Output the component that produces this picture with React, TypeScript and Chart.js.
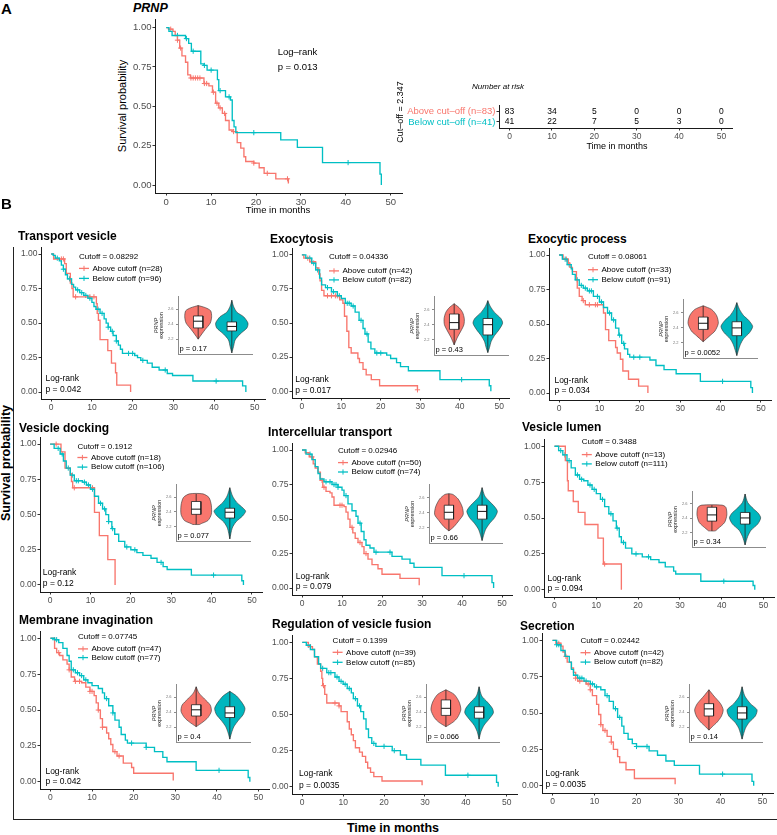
import React, { useEffect, useRef } from 'react';
import { Chart, registerables } from 'chart.js';

Chart.register(...registerables);

const RED = '#F8766D';
const TEAL = '#00BFC4';
const TEAL_FILL = '#00B6BE';
const FONT = '"Liberation Sans", Arial, Helvetica, sans-serif';
const TICK_COLOR = '#4D4D4D';
const AXIS_COLOR = '#1a1a1a';

type Pt = [number, number];
type Rect = { l: number; t: number; r: number; b: number };

// ---------------- DATA ----------------
const X_TICKS = [0, 10, 20, 30, 40, 50];
const Y_TICKS = [0, 0.25, 0.5, 0.75, 1];
const INSET_TICKS = [2.2, 2.4, 2.6];

// Panel A (PRNP)
const A_UP: Pt[] = [[0,1],[0.5,0.99],[1.5,0.976],[2,0.95],[2.5,0.92],[3,0.87],[3.5,0.82],[4.3,0.78],[4.8,0.70],[5.4,0.68],[8.4,0.645],[9.5,0.63],[10.3,0.59],[11,0.52],[11.7,0.49],[12.5,0.455],[13.2,0.41],[14,0.35],[14.7,0.34],[15.8,0.27],[16.6,0.235],[17.3,0.18],[17.7,0.15],[19.5,0.14],[20.7,0.11],[21.8,0.075],[24.4,0.04],[27.2,0.01]];
const A_UP_C = [1, 2.5, 3.2, 5.5, 6, 6.5, 7, 7.5, 8.5, 9, 10.5, 11.3, 12, 13, 15, 19.5, 22.5, 27];
const A_DN: Pt[] = [[0,1],[0.6,0.976],[1.3,0.95],[4.3,0.93],[5,0.90],[5.6,0.85],[7.7,0.77],[8.4,0.76],[9.1,0.73],[11.4,0.67],[11.7,0.60],[13.2,0.56],[14.3,0.54],[14.7,0.41],[15.1,0.37],[15.5,0.333],[25.5,0.287],[29.2,0.24],[34.8,0.143],[47.6,0.07],[47.9,0.0]];
const A_DN_C = [2.5, 4.5, 6, 8.5, 10, 12, 14, 19.5, 40.5];

const RISK_T = [0, 10, 20, 30, 40, 50];
const RISK_UP = [83, 34, 5, 0, 0, 0];
const RISK_DN = [41, 22, 7, 5, 3, 0];
const RISK_LABELS = ['Above cut\u2013off (n=83)', 'Below cut\u2013off (n=41)'];

// Panel B meta
const PANEL_TITLES = ['Transport vesicle', 'Exocytosis', 'Exocytic process', 'Vesicle docking', 'Intercellular transport', 'Vesicle lumen', 'Membrane invagination', 'Regulation of vesicle fusion', 'Secretion'];
const CUTOFFS = ['0.08292', '0.04336', '0.08061', '0.1912', '0.02946', '0.3488', '0.07745', '0.1399', '0.02442'];
const N_ABOVE = [28, 42, 33, 18, 50, 13, 47, 39, 42];
const N_BELOW = [96, 82, 91, 106, 74, 111, 77, 85, 82];
const LOGRANK_P = ['0.042', '0.017', '0.034', '0.12', '0.079', '0.094', '0.042', '0.0035', '0.0035'];
const VIOLIN_P = ['0.17', '0.43', '0.0052', '0.077', '0.66', '0.34', '0.4', '0.066', '0.14'];

// KM curves: [time, survival]
const TV_UP: Pt[] = [[0,1],[0.6,0.964],[3.3,0.93],[3.7,0.86],[4.7,0.79],[5.1,0.75],[5.4,0.69],[11.1,0.64],[11.3,0.57],[11.6,0.52],[12,0.38],[13.9,0.30],[14.8,0.21],[15.8,0.14],[16.1,0.05],[19.5,0.0]];
const TV_UP_C = [2.5, 3, 6, 9.5, 10.5];
const TV_DN: Pt[] = [[0,1],[0.5,0.99],[1,0.97],[2,0.95],[2.5,0.92],[3,0.89],[3.5,0.85],[4,0.82],[5,0.78],[5.5,0.76],[6,0.74],[7,0.72],[8,0.70],[9,0.68],[10,0.65],[10.5,0.62],[11,0.60],[12,0.57],[13,0.53],[13.5,0.50],[14,0.47],[14.6,0.44],[15.2,0.41],[16,0.37],[16.5,0.34],[17,0.31],[17.5,0.28],[20.5,0.265],[21.2,0.25],[22,0.23],[23.6,0.21],[24.8,0.18],[26.5,0.16],[28.5,0.135],[29.8,0.12],[34.8,0.08],[47,0.045],[47.8,0.0]];
const TV_DN_C = [1.5, 3, 4.5, 6.5, 7.5, 8.5, 9.5, 11.5, 12.5, 14, 15, 16, 19, 20, 22.5, 28, 40.5];

const EX_UP: Pt[] = [[0,1],[0.5,0.976],[2,0.95],[3.5,0.905],[4.3,0.86],[4.6,0.81],[5,0.74],[5.6,0.70],[9.6,0.67],[10.4,0.645],[10.8,0.55],[11.4,0.44],[11.9,0.32],[12.5,0.28],[14.2,0.24],[14.6,0.21],[15.5,0.16],[16.3,0.12],[17.6,0.085],[19.7,0.04],[29.3,0.01]];
const EX_UP_C = [1.5, 2.5, 6.5, 7.5, 8.5, 9, 29.3];
const EX_DN: Pt[] = [[0,1],[1,0.976],[2.5,0.94],[3.5,0.89],[4.5,0.83],[5,0.78],[6,0.76],[7.5,0.73],[9,0.70],[10,0.68],[11,0.645],[12.5,0.625],[13.5,0.58],[14.5,0.52],[15.5,0.46],[16,0.42],[16.8,0.36],[17.5,0.31],[18.5,0.28],[21.5,0.265],[22.5,0.24],[24,0.21],[25,0.18],[27,0.15],[35,0.085],[47.5,0.04],[47.9,0.0]];
const EX_DN_C = [2, 3, 4, 6.5, 8, 9.5, 11.5, 12, 13, 15, 16.5, 19, 20, 40.5];

const EP_UP: Pt[] = [[0,1],[1,0.97],[2.3,0.94],[2.7,0.91],[3.3,0.88],[4.3,0.82],[4.5,0.76],[5,0.70],[5.7,0.67],[6.5,0.64],[11,0.58],[11.5,0.46],[12.3,0.38],[14,0.33],[14.4,0.29],[15.2,0.245],[15.8,0.16],[17.2,0.10],[19.7,0.05],[22,0.0]];
const EP_UP_C = [1.8, 6, 7.5, 9, 9.5];
const EP_DN: Pt[] = [[0,1],[0.8,0.97],[2,0.93],[3,0.90],[3.3,0.86],[4,0.82],[5,0.78],[6,0.76],[7,0.74],[8.5,0.70],[10,0.66],[11,0.62],[12,0.58],[13,0.53],[14,0.47],[14.8,0.42],[15.5,0.36],[16.2,0.32],[17,0.28],[17.5,0.26],[22.5,0.24],[24,0.20],[26,0.17],[29,0.14],[35,0.085],[47.5,0.04],[47.9,0.0]];
const EP_DN_C = [1.5, 2.5, 4.5, 5.5, 6.5, 7.5, 8, 9.5, 10.5, 12.5, 13.5, 15, 16, 18.5, 20, 40.5];

const VD_UP: Pt[] = [[0,1],[2.7,0.945],[3.7,0.83],[5,0.79],[5.3,0.735],[5.6,0.69],[11,0.515],[12.2,0.35],[14.3,0.18],[16.1,0.0]];
const VD_UP_C = [1.5, 6, 10.5];
const VD_DN: Pt[] = [[0,1],[1,0.97],[2.5,0.93],[3.3,0.88],[4,0.83],[5,0.78],[6,0.74],[8,0.73],[9,0.71],[10,0.68],[11,0.63],[12,0.58],[13,0.54],[13.8,0.50],[14.5,0.45],[15.3,0.40],[16,0.36],[17,0.31],[18.5,0.27],[20,0.25],[21.5,0.23],[23,0.21],[25,0.19],[26.5,0.16],[28,0.13],[29,0.11],[35,0.07],[47.5,0.03],[47.9,0.0]];
const VD_DN_C = [2, 3, 4.5, 5.5, 6.5, 7, 8.5, 9.5, 10.5, 12.5, 13.5, 14.5, 15.5, 19, 21, 27.5, 40.5];

const IT_UP: Pt[] = [[0,1],[0.8,0.98],[1.8,0.95],[2.8,0.90],[3.3,0.87],[4,0.84],[4.6,0.78],[5.2,0.73],[6,0.70],[7,0.69],[7.5,0.66],[8,0.60],[10.5,0.59],[11,0.55],[11.5,0.50],[12,0.44],[12.7,0.40],[13.3,0.36],[14,0.33],[15,0.30],[15.5,0.25],[16.5,0.21],[17.5,0.17],[19,0.14],[20,0.10],[24.5,0.07],[29.3,0.02]];
const IT_UP_C = [2.5, 5, 5.5, 9.5, 10, 12.5, 14.5, 16];
const IT_DN: Pt[] = [[0,1],[1,0.97],[2.5,0.93],[3.3,0.88],[4,0.83],[4.5,0.79],[5.5,0.77],[7.5,0.75],[9,0.73],[10,0.71],[10.5,0.67],[11.5,0.61],[12.5,0.56],[13.5,0.52],[14,0.47],[14.8,0.41],[15.5,0.35],[16,0.31],[17,0.29],[18,0.26],[22.5,0.23],[25,0.21],[27,0.18],[28,0.15],[35,0.09],[47.5,0.04],[47.9,0.0]];
const IT_DN_C = [2, 6, 7, 8, 8.5, 9, 11, 14.5, 18.5, 22, 40.5];

const VL_UP: Pt[] = [[0,1],[2.6,0.90],[3.1,0.76],[3.3,0.69],[4.5,0.615],[5.7,0.54],[7.3,0.455],[10.4,0.36],[11.7,0.18],[16,0.0]];
const VL_UP_C = [12];
const VL_DN: Pt[] = [[0,1],[1,0.97],[2,0.94],[3,0.90],[4,0.85],[5,0.80],[6,0.77],[7,0.76],[8,0.73],[9,0.70],[10,0.67],[11,0.63],[12,0.58],[13,0.53],[14,0.48],[14.8,0.43],[15.5,0.37],[16,0.33],[17,0.29],[18.5,0.25],[21,0.23],[23,0.21],[25,0.19],[26.5,0.16],[28.5,0.13],[29,0.11],[35,0.06],[47.5,0.03],[47.9,0.0]];
const VL_DN_C = [1.5, 2.5, 3.5, 5.5, 6.5, 8.5, 9.5, 11.5, 13.5, 15, 16.5, 19.5, 22.5, 40.5];

const MI_UP: Pt[] = [[0,1],[1,0.93],[1.5,0.90],[2.2,0.88],[3,0.85],[4,0.82],[4.5,0.78],[5,0.73],[5.8,0.70],[7.5,0.69],[8.5,0.66],[9.5,0.63],[10.5,0.60],[11,0.55],[11.5,0.50],[12,0.44],[12.5,0.38],[13.5,0.34],[14,0.30],[14.5,0.26],[15,0.21],[16,0.18],[17.5,0.13],[19.5,0.10],[20,0.06],[29.5,0.01]];
const MI_UP_C = [2, 4.5, 6, 7, 9.5, 10, 11.5, 12.5, 15.5, 16.5];
const MI_DN: Pt[] = [[0,1],[1,0.99],[2,0.97],[3,0.93],[4,0.88],[4.5,0.84],[5,0.78],[6,0.76],[7,0.74],[8,0.71],[9,0.69],[10,0.67],[11.5,0.65],[12.5,0.62],[13,0.58],[14,0.53],[15,0.48],[15.5,0.43],[16.5,0.38],[17,0.33],[18,0.29],[18.5,0.27],[23,0.24],[25,0.21],[27,0.17],[28,0.14],[35,0.08],[47.5,0.03],[47.9,0.0]];
const MI_DN_C = [1, 1.5, 5.5, 6.5, 7.5, 8.5, 13.5, 15, 19.5, 23, 40.5];

const RV_UP: Pt[] = [[0,1],[1.5,0.97],[2.5,0.95],[3,0.90],[3.7,0.85],[4.5,0.80],[4.8,0.75],[5,0.70],[5.5,0.64],[6,0.58],[9,0.56],[9.5,0.52],[11,0.45],[11.5,0.40],[12,0.36],[12.5,0.32],[13,0.27],[14,0.24],[14.7,0.21],[15.5,0.17],[16,0.13],[16.7,0.10],[17.5,0.07],[19.5,0.04],[29.3,0.01]];
const RV_UP_C = [2, 5.2, 8, 9];
const RV_DN: Pt[] = [[0,1],[1,0.98],[2,0.95],[3,0.90],[4,0.85],[4.5,0.82],[6,0.79],[8,0.76],[9,0.73],[10,0.71],[11,0.68],[12,0.65],[12.5,0.61],[13.5,0.56],[14.3,0.52],[15,0.47],[15.6,0.40],[16.2,0.34],[17,0.30],[18,0.28],[22,0.25],[24,0.22],[25.5,0.19],[29,0.15],[35,0.08],[47.5,0.03],[47.9,0.0]];
const RV_DN_C = [1.5, 5, 6.5, 7, 8.5, 9.5, 10.5, 11.5, 13, 14, 17.5, 20, 22.5, 40.5];

const SE_UP: Pt[] = [[0,1],[0.8,0.98],[2,0.96],[2.5,0.92],[3,0.89],[3.5,0.85],[4.5,0.81],[5,0.78],[5.5,0.74],[6,0.72],[8,0.70],[9,0.66],[9.5,0.62],[10.5,0.56],[11,0.49],[11.5,0.42],[12,0.38],[13,0.34],[14,0.30],[14.5,0.25],[15.5,0.20],[16,0.16],[17.5,0.11],[19.5,0.05],[29.2,0.01]];
const SE_UP_C = [1.5, 3.2, 5.5, 6.5, 8.5, 9, 11.5, 12.5, 14];
const SE_DN: Pt[] = [[0,1],[1,0.97],[2,0.93],[3,0.89],[4,0.85],[4.5,0.80],[5,0.76],[6,0.74],[7.5,0.72],[9,0.70],[10,0.68],[11.5,0.66],[12.5,0.62],[13.5,0.58],[14.5,0.53],[15.5,0.47],[16.5,0.41],[17,0.36],[18,0.32],[19,0.29],[20,0.27],[23,0.24],[25,0.21],[27,0.17],[29,0.14],[35,0.08],[47.5,0.03],[47.9,0.0]];
const SE_DN_C = [1, 1.5, 5.5, 6.5, 7, 8, 9.5, 10.5, 13, 15, 16, 20, 22.5, 40.5];

// Violin profiles: [PRNP expression, half width], boxes: [q1, median, q3]
const TV_RED_V: Pt[] = [[2.2,0],[2.27,0.11],[2.33,0.21],[2.415,0.36],[2.5,0.40],[2.58,0.37],[2.62,0.22],[2.65,0]];
const TV_TEAL_V: Pt[] = [[2.016,0],[2.1,0.05],[2.19,0.10],[2.27,0.25],[2.35,0.45],[2.415,0.48],[2.5,0.35],[2.56,0.15],[2.64,0.05],[2.72,0]];
const TV_RED_BOX = [2.35, 2.44, 2.51];
const TV_TEAL_BOX = [2.31, 2.37, 2.43];

const EX_RED_V: Pt[] = [[2.134,0],[2.237,0.1],[2.317,0.2],[2.40,0.29],[2.481,0.30],[2.561,0.25],[2.622,0.15],[2.676,0]];
const EX_TEAL_V: Pt[] = [[2.033,0],[2.1,0.05],[2.18,0.1],[2.257,0.2],[2.338,0.34],[2.42,0.44],[2.48,0.39],[2.561,0.2],[2.643,0.07],[2.716,0]];
const EX_RED_BOX = [2.338, 2.427, 2.54];
const EX_TEAL_BOX = [2.265, 2.40, 2.481];

const EP_RED_V: Pt[] = [[2.215,0],[2.295,0.2],[2.356,0.35],[2.458,0.45],[2.559,0.40],[2.64,0.25],[2.688,0]];
const EP_TEAL_V: Pt[] = [[2.033,0],[2.174,0.1],[2.255,0.2],[2.336,0.38],[2.417,0.47],[2.498,0.35],[2.559,0.2],[2.64,0.08],[2.729,0]];
const EP_RED_BOX = [2.377, 2.458, 2.539];
const EP_TEAL_BOX = [2.295, 2.397, 2.478];

const VD_RED_V: Pt[] = [[2.226,0.1],[2.238,0.15],[2.28,0.35],[2.364,0.45],[2.489,0.45],[2.593,0.38],[2.643,0.2]];
const VD_TEAL_V: Pt[] = [[2.03,0],[2.176,0.07],[2.26,0.18],[2.342,0.38],[2.405,0.47],[2.447,0.40],[2.53,0.2],[2.614,0.08],[2.727,0]];
const VD_RED_BOX = [2.364, 2.435, 2.539];
const VD_TEAL_BOX = [2.314, 2.393, 2.447];

const IT_RED_V: Pt[] = [[2.16,0],[2.215,0.15],[2.295,0.30],[2.376,0.43],[2.477,0.40],[2.579,0.28],[2.64,0.12],[2.65,0]];
const IT_TEAL_V: Pt[] = [[2.033,0],[2.174,0.1],[2.255,0.22],[2.336,0.38],[2.417,0.46],[2.477,0.38],[2.559,0.2],[2.62,0.08],[2.729,0]];
const IT_RED_BOX = [2.315, 2.405, 2.498];
const IT_TEAL_BOX = [2.315, 2.417, 2.498];

const VL_RED_V: Pt[] = [[2.225,0.1],[2.255,0.18],[2.34,0.38],[2.446,0.45],[2.552,0.42],[2.582,0.30]];
const VL_TEAL_V: Pt[] = [[2.03,0],[2.149,0.08],[2.234,0.18],[2.319,0.38],[2.404,0.47],[2.468,0.40],[2.532,0.25],[2.617,0.08],[2.736,0]];
const VL_RED_BOX = [2.36, 2.446, 2.552];
const VL_TEAL_BOX = [2.319, 2.404, 2.48];

const MI_RED_V: Pt[] = [[2.206,0],[2.268,0.2],[2.329,0.35],[2.411,0.45],[2.494,0.42],[2.576,0.25],[2.658,0.08],[2.74,0]];
const MI_TEAL_V: Pt[] = [[2.04,0],[2.123,0.05],[2.206,0.12],[2.288,0.25],[2.37,0.40],[2.452,0.45],[2.535,0.35],[2.617,0.2],[2.679,0]];
const MI_RED_BOX = [2.349, 2.432, 2.50];
const MI_TEAL_BOX = [2.329, 2.39, 2.473];

const RV_RED_V: Pt[] = [[2.206,0],[2.268,0.22],[2.329,0.35],[2.432,0.45],[2.535,0.40],[2.638,0.25],[2.70,0]];
const RV_TEAL_V: Pt[] = [[2.04,0],[2.144,0.06],[2.226,0.15],[2.308,0.30],[2.39,0.43],[2.452,0.40],[2.535,0.25],[2.617,0.08],[2.74,0]];
const RV_RED_BOX = [2.357, 2.452, 2.564];
const RV_TEAL_BOX = [2.32, 2.40, 2.473];

const SE_RED_V: Pt[] = [[2.16,0],[2.206,0.1],[2.268,0.25],[2.349,0.38],[2.432,0.43],[2.514,0.35],[2.617,0.15],[2.70,0]];
const SE_TEAL_V: Pt[] = [[2.04,0],[2.185,0.1],[2.268,0.22],[2.349,0.40],[2.432,0.45],[2.514,0.25],[2.617,0.08],[2.74,0]];
const SE_RED_BOX = [2.349, 2.444, 2.514];
const SE_TEAL_BOX = [2.308, 2.39, 2.473];

const UP_CURVES = [TV_UP, EX_UP, EP_UP, VD_UP, IT_UP, VL_UP, MI_UP, RV_UP, SE_UP];
const UP_CENS = [TV_UP_C, EX_UP_C, EP_UP_C, VD_UP_C, IT_UP_C, VL_UP_C, MI_UP_C, RV_UP_C, SE_UP_C];
const DN_CURVES = [TV_DN, EX_DN, EP_DN, VD_DN, IT_DN, VL_DN, MI_DN, RV_DN, SE_DN];
const DN_CENS = [TV_DN_C, EX_DN_C, EP_DN_C, VD_DN_C, IT_DN_C, VL_DN_C, MI_DN_C, RV_DN_C, SE_DN_C];
const RED_VIOLINS = [TV_RED_V, EX_RED_V, EP_RED_V, VD_RED_V, IT_RED_V, VL_RED_V, MI_RED_V, RV_RED_V, SE_RED_V];
const TEAL_VIOLINS = [TV_TEAL_V, EX_TEAL_V, EP_TEAL_V, VD_TEAL_V, IT_TEAL_V, VL_TEAL_V, MI_TEAL_V, RV_TEAL_V, SE_TEAL_V];
const RED_BOXES = [TV_RED_BOX, EX_RED_BOX, EP_RED_BOX, VD_RED_BOX, IT_RED_BOX, VL_RED_BOX, MI_RED_BOX, RV_RED_BOX, SE_RED_BOX];
const TEAL_BOXES = [TV_TEAL_BOX, EX_TEAL_BOX, EP_TEAL_BOX, VD_TEAL_BOX, IT_TEAL_BOX, VL_TEAL_BOX, MI_TEAL_BOX, RV_TEAL_BOX, SE_TEAL_BOX];

// ---------------- LAYOUT (page pixels) ----------------
const A_AREA: Rect = { l: 154.5, t: 19.4, r: 401, b: 193.2 };
const RISK_AREA: Rect = { l: 499.4, t: 101, r: 732.6, b: 127.5 };
const KM_AREAS: Rect[] = [
  { l: 40.5, t: 247, r: 264.4, b: 398.9 },
  { l: 292.4, t: 248.2, r: 509.2, b: 398.5 },
  { l: 548.6, t: 248.4, r: 770.8, b: 400.9 },
  { l: 39.9, t: 437.3, r: 261.8, b: 592 },
  { l: 292, t: 442.8, r: 511.7, b: 594.9 },
  { l: 543.9, t: 438.5, r: 773.8, b: 596.9 },
  { l: 40.3, t: 631.2, r: 269.5, b: 788.8 },
  { l: 292.1, t: 634.5, r: 517, b: 793.2 },
  { l: 542.2, t: 632.7, r: 773.2, b: 793 },
];
const INSET_FRAMES: Rect[] = [
  { l: 178, t: 295, r: 252, b: 357 },
  { l: 434, t: 295, r: 508, b: 358 },
  { l: 683, t: 298, r: 757, b: 361 },
  { l: 176, t: 483, r: 250, b: 544 },
  { l: 429, t: 483, r: 502, b: 546 },
  { l: 692, t: 490, r: 765, b: 550 },
  { l: 176, t: 683, r: 250, b: 745 },
  { l: 426, t: 683, r: 499, b: 745 },
  { l: 689, t: 683, r: 762, b: 745 },
];
const TITLE_POS = [[18, 236], [270, 238.5], [528, 238.5], [19, 428.3], [268, 432], [522, 426.7], [19, 620], [272, 624], [520, 625.7]];
const LEGEND_OFF = [[38, 9.7, 21.3, 31.3], [37, 9, 22.8, 31.8], [39, 8.3, 21.6, 31.6], [37.4, 9.4, 20.4, 30], [46, 7.2, 19.5, 28.9], [37.8, 2.2, 15.5, 24.8], [38, 5.5, 17.8, 26.5], [40.6, 5.5, 17.2, 27.2], [38.5, 7.3, 19.6, 29]];
const LOGRANK_OFF = [[4.5, -20, -9], [3.3, -18.5, -7.8], [5.4, -19, -9], [2.8, -19.7, -8.7], [3.7, -18.2, -8.2], [3.4, -18.6, -7.9], [5.4, -17, -7], [7, -20, -8], [3.5, -19.7, -8]];

// ---------------- helpers ----------------
function survAt(curve: Pt[], t: number): number {
  let s = curve[0][1];
  for (const [ti, si] of curve) {
    if (ti <= t) s = si;
    else break;
  }
  return s;
}
const stepData = (c: Pt[]) => c.map(([x, y]) => ({ x, y }));
const censorData = (c: Pt[], cs: number[]) => cs.map((t) => ({ x: t, y: survAt(c, t) }));

function Txt(props: { x: number; y: number; size: number; weight?: string; italic?: boolean; anchor?: string; rotate?: boolean; color?: string; children: any }) {
  const { x, y, size, weight = 'normal', italic = false, anchor = 'start', rotate = false, color = '#000' } = props;
  const tr = rotate ? 'translate(-50%,-50%) rotate(-90deg)' : anchor === 'middle' ? 'translate(-50%,-50%)' : 'translate(0,-50%)';
  return (
    <div style={{ position: 'absolute', left: x, top: y, transform: tr, fontFamily: FONT, fontSize: size, fontWeight: weight as any, fontStyle: italic ? 'italic' : 'normal', lineHeight: 1, whiteSpace: 'nowrap', color }}>
      {props.children}
    </div>
  );
}

type KMProps = {
  area: Rect; up: Pt[]; upC: number[]; dn: Pt[]; dnC: number[];
  tick: number; yW: number; xH: number;
  legend?: { cutoff: string; nUp: number; nDn: number; off: number[] };
  logrank?: { p: string; off: number[] };
};

function KMChart(props: KMProps) {
  const ref = useRef<HTMLCanvasElement | null>(null);
  const padT = 6, padR = 8;
  const L = Math.round(props.area.l), T = Math.round(props.area.t);
  const AW = Math.round(props.area.r - props.area.l), AH = Math.round(props.area.b - props.area.t);
  const W = AW + props.yW + padR, H = AH + padT + props.xH;
  useEffect(() => {
    const p = props;
    const annot = {
      id: 'kmAnnot',
      afterDatasetsDraw(chart: any) {
        const ctx = chart.ctx;
        const a = chart.chartArea;
        ctx.save();
        ctx.textBaseline = 'middle';
        ctx.textAlign = 'left';
        if (p.legend) {
          const [dx, d0, d1, d2] = p.legend.off;
          const x = a.left + dx;
          ctx.font = `8px ${FONT}`;
          ctx.fillStyle = '#000';
          ctx.fillText(`Cutoff = ${p.legend.cutoff}`, x, a.top + d0);
          const rows: [string, string, number][] = [
            [RED, `Above cutoff (n=${p.legend.nUp})`, d1],
            [TEAL, `Below cutoff (n=${p.legend.nDn})`, d2],
          ];
          for (const [col, txt, dy] of rows) {
            const y = a.top + dy;
            ctx.strokeStyle = col;
            ctx.lineWidth = 1.3;
            ctx.beginPath();
            ctx.moveTo(x, y);
            ctx.lineTo(x + 10, y);
            ctx.stroke();
            ctx.lineWidth = 1;
            ctx.beginPath();
            ctx.moveTo(x + 5, y - 2.6);
            ctx.lineTo(x + 5, y + 2.6);
            ctx.stroke();
            ctx.fillStyle = '#000';
            ctx.fillText(txt, x + 13.5, y);
          }
        }
        if (p.logrank) {
          const [dx, d0, d1] = p.logrank.off;
          ctx.font = `8.5px ${FONT}`;
          ctx.fillStyle = '#000';
          ctx.fillText('Log-rank', a.left + dx, a.bottom + d0);
          ctx.fillText(`p = ${p.logrank.p}`, a.left + dx, a.bottom + d1);
        }
        ctx.restore();
      },
    };
    const lineDs = (c: Pt[], col: string) => ({
      data: stepData(c), showLine: true, stepped: 'before', borderColor: col, borderWidth: 1.35,
      pointRadius: 0, fill: false,
    });
    const censDs = (c: Pt[], cs: number[], col: string) => ({
      data: censorData(c, cs), showLine: false, pointStyle: 'cross', pointRadius: 2.6,
      pointBorderWidth: 1, pointBorderColor: col, borderColor: col, backgroundColor: col,
    });
    const tickFont = { family: FONT, size: p.tick };
    const chart = new Chart(ref.current as HTMLCanvasElement, {
      type: 'scatter',
      data: {
        datasets: [
          lineDs(p.dn, TEAL) as any,
          lineDs(p.up, RED) as any,
          censDs(p.dn, p.dnC, TEAL) as any,
          censDs(p.up, p.upC, RED) as any,
        ],
      },
      options: {
        animation: false,
        responsive: false,
        events: [],
        layout: { padding: { left: 0, top: padT, right: padR, bottom: 0 } },
        plugins: { legend: { display: false }, tooltip: { enabled: false } },
        scales: {
          x: {
            type: 'linear', min: -2.5, max: 52.5,
            afterBuildTicks: (s: any) => { s.ticks = X_TICKS.map((v) => ({ value: v })); },
            afterFit: (s: any) => { s.height = p.xH; },
            ticks: { font: tickFont, color: TICK_COLOR, padding: 1, maxRotation: 0, autoSkip: false, callback: (v: any) => String(v) },
            grid: { display: true, drawOnChartArea: false, drawTicks: true, tickLength: 2.5, color: '#333' },
            border: { display: true, color: AXIS_COLOR, width: 1 },
          },
          y: {
            type: 'linear', min: -0.05, max: 1.05,
            afterBuildTicks: (s: any) => { s.ticks = Y_TICKS.map((v) => ({ value: v })); },
            afterFit: (s: any) => { s.width = p.yW; },
            ticks: { font: tickFont, color: TICK_COLOR, padding: 1, autoSkip: false, callback: (v: any) => Number(v).toFixed(2) },
            grid: { display: true, drawOnChartArea: false, drawTicks: true, tickLength: 2.5, color: '#333' },
            border: { display: true, color: AXIS_COLOR, width: 1 },
          },
        },
      } as any,
      plugins: [annot as any],
    });
    return () => chart.destroy();
  }, []);
  return (
    <canvas ref={ref} width={W} height={H}
      style={{ position: 'absolute', left: L - props.yW, top: T - padT, width: W, height: H }} />
  );
}

function violinPoly(v: Pt[], c: number) {
  const left = v.map(([y, w]) => ({ x: c - w, y }));
  const right = [...v].reverse().map(([y, w]) => ({ x: c + w, y }));
  return [...left, ...right, left[0]];
}

function InsetChart(props: { frame: Rect; redV: Pt[]; tealV: Pt[]; redBox: number[]; tealBox: number[]; p: string }) {
  const ref = useRef<HTMLCanvasElement | null>(null);
  const yW = 28, padT = 3, padR = 2, padB = 2;
  const f = props.frame;
  const L = Math.round(f.l), T = Math.round(f.t);
  const AW = Math.round(f.r - f.l), AH = Math.round(f.b - f.t);
  const W = AW + yW + padR, H = AH + padT + padB;
  useEffect(() => {
    const p = props;
    const bw = 0.14;
    // Chart.js draws datasets with a lower "order" on top
    const violinDs = (v: Pt[], c: number, col: string) => ({
      data: violinPoly(v, c), showLine: true, fill: 'shape', backgroundColor: col,
      borderColor: '#333', borderWidth: 0.6, tension: 0.25, pointRadius: 0, order: 4,
    });
    const whiskerDs = (v: Pt[], c: number) => ({
      data: [{ x: c, y: v[0][0] }, { x: c, y: v[v.length - 1][0] }], showLine: true,
      borderColor: '#222', borderWidth: 0.8, pointRadius: 0, fill: false, order: 3,
    });
    const boxDs = (b: number[], c: number) => ({
      data: [{ x: c - bw, y: b[0] }, { x: c - bw, y: b[2] }, { x: c + bw, y: b[2] }, { x: c + bw, y: b[0] }, { x: c - bw, y: b[0] }],
      showLine: true, fill: 'shape', backgroundColor: '#fff', borderColor: '#222', borderWidth: 0.8,
      pointRadius: 0, tension: 0, order: 2,
    });
    const medDs = (b: number[], c: number) => ({
      data: [{ x: c - bw, y: b[1] }, { x: c + bw, y: b[1] }], showLine: true,
      borderColor: '#111', borderWidth: 1, pointRadius: 0, fill: false, order: 1,
    });
    const txt = {
      id: 'insetText',
      afterDraw(chart: any) {
        const ctx = chart.ctx;
        const a = chart.chartArea;
        ctx.save();
        ctx.fillStyle = '#000';
        ctx.textBaseline = 'middle';
        ctx.textAlign = 'left';
        ctx.font = `7.5px ${FONT}`;
        ctx.fillText(`p = ${p.p}`, a.left + 1.5, a.bottom - 5.5);
        const cy = (a.top + a.bottom) / 2;
        ctx.textAlign = 'center';
        ctx.fillStyle = '#222';
        ctx.translate(a.left - 21.5, cy);
        ctx.rotate(-Math.PI / 2);
        ctx.font = `italic 5.5px ${FONT}`;
        ctx.fillText('PRNP', 0, 0);
        ctx.font = `5.5px ${FONT}`;
        ctx.fillText('expression', 0, 5.4);
        ctx.restore();
      },
    };
    const chart = new Chart(ref.current as HTMLCanvasElement, {
      type: 'scatter',
      data: {
        datasets: [
          violinDs(p.redV, 1, RED) as any,
          violinDs(p.tealV, 2, TEAL_FILL) as any,
          whiskerDs(p.redV, 1) as any,
          whiskerDs(p.tealV, 2) as any,
          boxDs(p.redBox, 1) as any,
          boxDs(p.tealBox, 2) as any,
          medDs(p.redBox, 1) as any,
          medDs(p.tealBox, 2) as any,
        ],
      },
      options: {
        animation: false,
        responsive: false,
        events: [],
        layout: { padding: { left: 0, top: padT, right: padR, bottom: padB } },
        plugins: { legend: { display: false }, tooltip: { enabled: false } },
        scales: {
          x: {
            type: 'linear', min: 0.4, max: 2.6,
            afterFit: (s: any) => { s.height = 0; },
            ticks: { display: false },
            grid: { display: false },
            border: { display: true, color: '#8c8c8c', width: 1 },
          },
          y: {
            type: 'linear', min: 2.0, max: 2.765,
            afterBuildTicks: (s: any) => { s.ticks = INSET_TICKS.map((v) => ({ value: v })); },
            afterFit: (s: any) => { s.width = yW; },
            ticks: { font: { family: FONT, size: 4 }, color: '#777', padding: 2.5, autoSkip: false, callback: (v: any) => Number(v).toFixed(1) },
            grid: { display: true, drawOnChartArea: false, drawTicks: true, tickLength: 2, color: '#8c8c8c' },
            border: { display: true, color: '#8c8c8c', width: 1 },
          },
        },
      } as any,
      plugins: [txt as any],
    });
    return () => chart.destroy();
  }, []);
  return (
    <canvas ref={ref} width={W} height={H}
      style={{ position: 'absolute', left: L - yW, top: T - padT, width: W, height: H }} />
  );
}

function RiskTable() {
  const ref = useRef<HTMLCanvasElement | null>(null);
  const yW = 105, padT = 2, padR = 12, xH = 13;
  const a = RISK_AREA;
  const L = Math.round(a.l), T = Math.round(a.t);
  const AW = Math.round(a.r - a.l), AH = Math.round(a.b - a.t);
  const W = AW + yW + padR, H = AH + padT + xH;
  useEffect(() => {
    const nums = {
      id: 'riskNums',
      afterDatasetsDraw(chart: any) {
        const ctx = chart.ctx;
        const xs = chart.scales.x, ys = chart.scales.y;
        ctx.save();
        ctx.font = `8.5px ${FONT}`;
        ctx.fillStyle = '#000';
        ctx.textAlign = 'center';
        ctx.textBaseline = 'middle';
        RISK_T.forEach((t, i) => {
          ctx.fillText(String(RISK_UP[i]), xs.getPixelForValue(t), ys.getPixelForValue(1));
          ctx.fillText(String(RISK_DN[i]), xs.getPixelForValue(t), ys.getPixelForValue(2));
        });
        ctx.restore();
      },
    };
    const chart = new Chart(ref.current as HTMLCanvasElement, {
      type: 'scatter',
      data: { datasets: [{ data: [] }] },
      options: {
        animation: false,
        responsive: false,
        events: [],
        layout: { padding: { left: 0, top: padT, right: padR, bottom: 0 } },
        plugins: { legend: { display: false }, tooltip: { enabled: false } },
        scales: {
          x: {
            type: 'linear', min: -2.5, max: 52.5,
            afterBuildTicks: (s: any) => { s.ticks = X_TICKS.map((v) => ({ value: v })); },
            afterFit: (s: any) => { s.height = xH; },
            ticks: { font: { family: FONT, size: 8.5 }, color: TICK_COLOR, padding: 1, maxRotation: 0, autoSkip: false, callback: (v: any) => String(v) },
            grid: { display: true, drawOnChartArea: false, drawTicks: true, tickLength: 2.5, color: '#333' },
            border: { display: true, color: AXIS_COLOR, width: 1 },
          },
          y: {
            type: 'linear', min: 0.4, max: 2.6, reverse: true,
            afterBuildTicks: (s: any) => { s.ticks = [1, 2].map((v) => ({ value: v })); },
            afterFit: (s: any) => { s.width = yW; },
            ticks: {
              font: { family: FONT, size: 9.5 }, padding: 1, autoSkip: false,
              color: (c: any) => (c.index === 0 ? RED : TEAL),
              callback: (v: any) => RISK_LABELS[Math.round(Number(v)) - 1],
            },
            grid: { display: true, drawOnChartArea: false, drawTicks: true, tickLength: 2.5, color: '#333' },
            border: { display: true, color: AXIS_COLOR, width: 1 },
          },
        },
      } as any,
      plugins: [nums as any],
    });
    return () => chart.destroy();
  }, []);
  return (
    <canvas ref={ref} width={W} height={H}
      style={{ position: 'absolute', left: L - yW, top: T - padT, width: W, height: H }} />
  );
}

export default function App() {
  return (
    <div style={{ position: 'absolute', left: 0, top: 0, width: 777, height: 835, overflow: 'hidden', background: '#fff' }}>
      {/* Panel A */}
      <Txt x={1} y={8} size={15} weight="bold">A</Txt>
      <Txt x={133} y={8} size={12.5} weight="bold" italic>PRNP</Txt>
      <Txt x={122} y={106} size={11} rotate>Survival probability</Txt>
      <KMChart area={A_AREA} up={A_UP} upC={A_UP_C} dn={A_DN} dnC={A_DN_C} tick={9.5} yW={40} xH={17} />
      <Txt x={277.7} y={51.7} size={9.5}>Log–rank</Txt>
      <Txt x={277.7} y={66.7} size={9.5}>p = 0.013</Txt>
      <Txt x={278} y={209.5} size={9.5} anchor="middle">Time in months</Txt>
      <Txt x={472} y={87} size={8} italic>Number at risk</Txt>
      <Txt x={400} y={112} size={9} rotate>Cut–off = 2.347</Txt>
      <RiskTable />
      <Txt x={617} y={145.5} size={9} anchor="middle">Time in months</Txt>

      {/* Panel B */}
      <Txt x={1} y={203} size={15} weight="bold">B</Txt>
      <div style={{ position: 'absolute', left: 13, top: 247, width: 1, height: 572, background: '#222' }} />
      <div style={{ position: 'absolute', left: 13, top: 818.5, width: 764, height: 1, background: '#222' }} />
      <Txt x={5.5} y={463} size={12.5} weight="bold" rotate>Survival probability</Txt>
      <Txt x={393} y={828} size={12.5} weight="bold" anchor="middle">Time in months</Txt>
      {PANEL_TITLES.map((title, i) => (
        <React.Fragment key={i}>
          <Txt x={TITLE_POS[i][0]} y={TITLE_POS[i][1]} size={12} weight="bold">{title}</Txt>
          <KMChart
            area={KM_AREAS[i]} up={UP_CURVES[i]} upC={UP_CENS[i]} dn={DN_CURVES[i]} dnC={DN_CENS[i]}
            tick={8.5} yW={30} xH={14}
            legend={{ cutoff: CUTOFFS[i], nUp: N_ABOVE[i], nDn: N_BELOW[i], off: LEGEND_OFF[i] }}
            logrank={{ p: LOGRANK_P[i], off: LOGRANK_OFF[i] }}
          />
          <InsetChart
            frame={INSET_FRAMES[i]} redV={RED_VIOLINS[i]} tealV={TEAL_VIOLINS[i]}
            redBox={RED_BOXES[i]} tealBox={TEAL_BOXES[i]} p={VIOLIN_P[i]}
          />
        </React.Fragment>
      ))}
    </div>
  );
}
